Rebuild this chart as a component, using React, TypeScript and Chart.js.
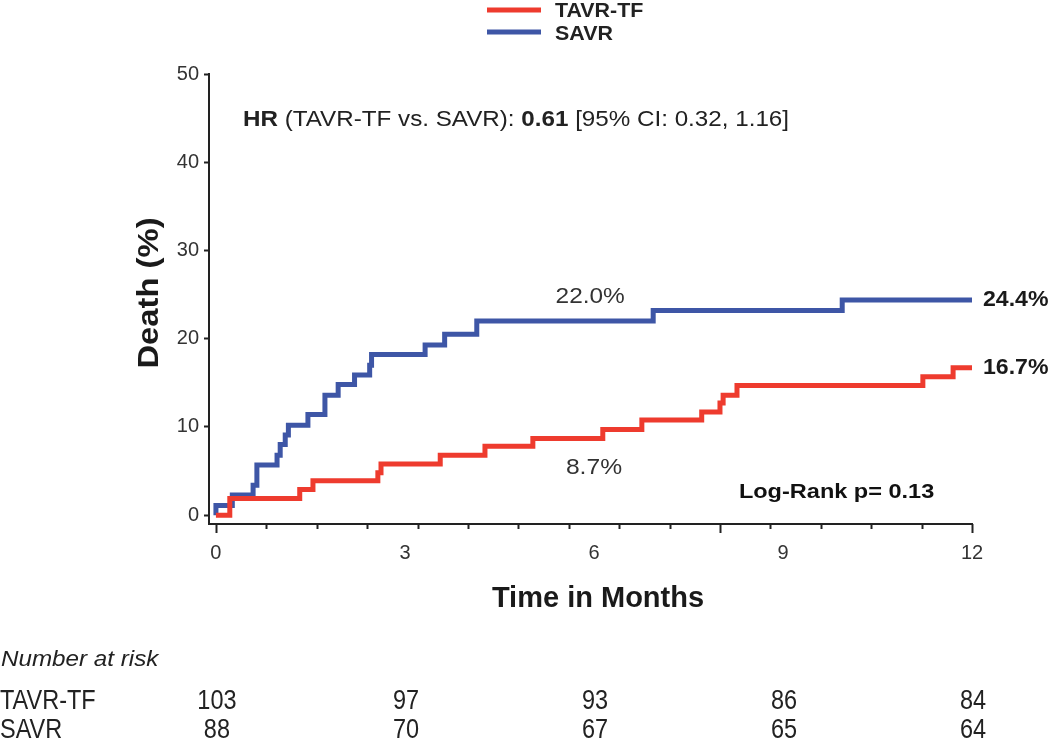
import React, { useEffect, useRef } from "react";
import { Chart, registerables } from "chart.js";

Chart.register(...registerables);

const FONT = '"Liberation Sans", Arial, Helvetica, sans-serif';

const RED = "#ee3b2e";
const BLUE = "#3e56a6";

const seriesNames = ["TAVR-TF", "SAVR"];

// Kaplan-Meier steps (months, cumulative death %)
const tavrTimes = [0, 0.22, 1.33, 1.54, 2.57, 2.62, 3.56, 4.27, 5.03, 6.14, 6.76, 7.71, 8.0, 8.05, 8.27, 11.22, 11.7, 12];
const tavrValues = [0, 1.9, 2.9, 3.9, 4.8, 5.8, 6.8, 7.8, 8.7, 9.7, 10.8, 11.7, 12.7, 13.6, 14.7, 15.7, 16.7, 16.7];

const savrTimes = [0, 0, 0.26, 0.59, 0.65, 0.97, 1.02, 1.1, 1.15, 1.46, 1.73, 1.94, 2.2, 2.44, 2.47, 3.32, 3.63, 4.14, 6.94, 9.94, 12];
const savrValues = [0, 1.1, 2.3, 3.4, 5.7, 6.8, 8.0, 9.1, 10.2, 11.4, 13.6, 14.8, 15.9, 17.0, 18.2, 19.3, 20.5, 22.0, 23.2, 24.4, 24.4];

const xTickValues = [0, 3, 6, 9, 12];
const yTickValues = [0, 10, 20, 30, 40, 50];
const minorTickStep = 0.8;
const longTicks = [0, 8, 12];

const riskLabel = "Number at risk";
const riskTavr = [103, 97, 93, 86, 84];
const riskSavr = [88, 70, 67, 65, 64];

const finalTavr = "16.7%";
const finalSavr = "24.4%";
const sixMonthTavr = "8.7%";
const sixMonthSavr = "22.0%";
const logRankText = "Log-Rank p= 0.13";

function drawText(
  ctx: CanvasRenderingContext2D,
  text: string,
  x: number,
  y: number,
  font: string,
  sx: number,
  align: CanvasTextAlign,
  color: string
): number {
  ctx.save();
  ctx.font = font;
  ctx.fillStyle = color;
  ctx.textAlign = align;
  ctx.textBaseline = "middle";
  ctx.translate(x, y);
  ctx.scale(sx, 1);
  ctx.fillText(text, 0, 0);
  const w = ctx.measureText(text).width * sx;
  ctx.restore();
  return w;
}

export default function App() {
  const ref = useRef<HTMLCanvasElement | null>(null);

  useEffect(() => {
    const canvas = ref.current;
    if (!canvas) return;

    const annot = {
      id: "annot",
      afterDraw(chart: any) {
        const ctx = chart.ctx as CanvasRenderingContext2D;
        const xs = chart.scales.x;
        const ys = chart.scales.y;
        const area = chart.chartArea;
        ctx.save();

        // minor ticks on x axis
        ctx.strokeStyle = "#222";
        ctx.lineWidth = 2;
        for (let k = 0; k * minorTickStep <= 12.0001; k++) {
          const v = Math.round(k * minorTickStep * 100) / 100;
          const px = Math.round(xs.getPixelForValue(v)) + 0.5;
          const len = longTicks.some((t) => Math.abs(t - v) < 0.01) ? 9 : 5;
          ctx.beginPath();
          ctx.moveTo(px, area.bottom);
          ctx.lineTo(px, area.bottom + len);
          ctx.stroke();
        }

        // legend
        ctx.lineWidth = 5;
        ctx.strokeStyle = RED;
        ctx.beginPath();
        ctx.moveTo(487, 10);
        ctx.lineTo(541, 10);
        ctx.stroke();
        ctx.strokeStyle = BLUE;
        ctx.beginPath();
        ctx.moveTo(487, 32);
        ctx.lineTo(541, 32);
        ctx.stroke();
        drawText(ctx, seriesNames[0], 555, 11, `bold 20px ${FONT}`, 1.07, "left", "#222");
        drawText(ctx, seriesNames[1], 555, 34, `bold 20px ${FONT}`, 1.07, "left", "#222");

        // axis titles
        drawText(ctx, "Time in Months", 598, 599, `bold 29px ${FONT}`, 1, "center", "#1a1a1a");
        ctx.save();
        ctx.translate(150, 293);
        ctx.rotate(-Math.PI / 2);
        drawText(ctx, "Death (%)", 0, 0, `bold 29px ${FONT}`, 1.13, "center", "#1a1a1a");
        ctx.restore();

        // HR text
        const parts: [string, boolean][] = [
          ["HR", true],
          [" (TAVR-TF vs. SAVR): ", false],
          ["0.61", true],
          [" [95% CI: 0.32, 1.16]", false],
        ];
        let hx = xs.getPixelForValue(0.43);
        const hy = ys.getPixelForValue(44.8);
        for (const [txt, bold] of parts) {
          hx += drawText(ctx, txt, hx, hy, `${bold ? "bold " : ""}22px ${FONT}`, 1.1, "left", "#222");
        }

        // six-month labels
        drawText(ctx, sixMonthSavr, xs.getPixelForValue(5.94), ys.getPixelForValue(24.7), `22px ${FONT}`, 1.11, "center", "#333");
        drawText(ctx, sixMonthTavr, xs.getPixelForValue(6.0), ys.getPixelForValue(5.3), `22px ${FONT}`, 1.12, "center", "#333");

        // log-rank
        drawText(ctx, logRankText, xs.getPixelForValue(8.3), ys.getPixelForValue(2.6), `bold 21px ${FONT}`, 1.12, "left", "#111");

        // final values
        drawText(ctx, finalSavr, area.right + 11, ys.getPixelForValue(24.4), `bold 22px ${FONT}`, 1.05, "left", "#1a1a1a");
        drawText(ctx, finalTavr, area.right + 11, ys.getPixelForValue(16.7), `bold 22px ${FONT}`, 1.05, "left", "#1a1a1a");

        // number at risk table
        drawText(ctx, riskLabel, 1, 660, `italic 22px ${FONT}`, 1.1, "left", "#222");
        drawText(ctx, seriesNames[0], 0, 702, `27px ${FONT}`, 0.87, "left", "#222");
        drawText(ctx, seriesNames[1], 0, 731, `27px ${FONT}`, 0.87, "left", "#222");
        xTickValues.forEach((v, i) => {
          const px = xs.getPixelForValue(v) + 1;
          drawText(ctx, String(riskTavr[i]), px, 702, `27px ${FONT}`, 0.87, "center", "#222");
          drawText(ctx, String(riskSavr[i]), px, 731, `27px ${FONT}`, 0.87, "center", "#222");
        });

        ctx.restore();
      },
    };

    const chart = new Chart(canvas, {
      type: "line",
      data: {
        datasets: [
          {
            label: seriesNames[0],
            data: tavrTimes.map((t, i) => ({ x: t, y: tavrValues[i] })),
            borderColor: RED,
            backgroundColor: RED,
            borderWidth: 5,
            pointRadius: 0,
            stepped: "before",
            fill: false,
            borderJoinStyle: "miter",
            borderCapStyle: "butt",
            order: 0,
          },
          {
            label: seriesNames[1],
            data: savrTimes.map((t, i) => ({ x: t, y: savrValues[i] })),
            borderColor: BLUE,
            backgroundColor: BLUE,
            borderWidth: 5,
            pointRadius: 0,
            stepped: "before",
            fill: false,
            borderJoinStyle: "miter",
            borderCapStyle: "butt",
            order: 1,
          },
        ],
      },
      options: {
        responsive: false,
        animation: false,
        layout: { padding: { top: 74, right: 78, left: 0, bottom: 0 } },
        plugins: {
          legend: { display: false },
          tooltip: { enabled: false },
          title: { display: false },
        },
        scales: {
          x: {
            type: "linear",
            min: -0.11,
            max: 12,
            afterBuildTicks: (s: any) => {
              s.ticks = xTickValues.map((v) => ({ value: v }));
            },
            afterFit: (s: any) => {
              s.height = 219;
            },
            ticks: {
              font: { family: FONT, size: 20 },
              color: "#333",
              padding: 17,
              maxRotation: 0,
              autoSkip: false,
            },
            grid: { display: false, drawOnChartArea: false, drawTicks: false },
            border: { display: true, color: "#222", width: 2 },
          },
          y: {
            type: "linear",
            min: -1,
            max: 50,
            afterBuildTicks: (s: any) => {
              s.ticks = yTickValues.map((v) => ({ value: v }));
            },
            afterFit: (s: any) => {
              s.width = 209;
            },
            ticks: {
              font: { family: FONT, size: 20 },
              color: "#333",
              padding: 5,
              autoSkip: false,
            },
            grid: {
              display: true,
              drawOnChartArea: false,
              drawTicks: true,
              tickLength: 5,
              color: "#222",
              tickWidth: 2,
            },
            border: { display: true, color: "#222", width: 2 },
          },
        },
      },
      plugins: [annot],
    } as any);

    return () => chart.destroy();
  }, []);

  return (
    <div style={{ position: "fixed", left: 0, top: 0, width: 1050, height: 743, background: "#fff" }}>
      <canvas ref={ref} width={1050} height={743} style={{ display: "block" }} />
    </div>
  );
}
